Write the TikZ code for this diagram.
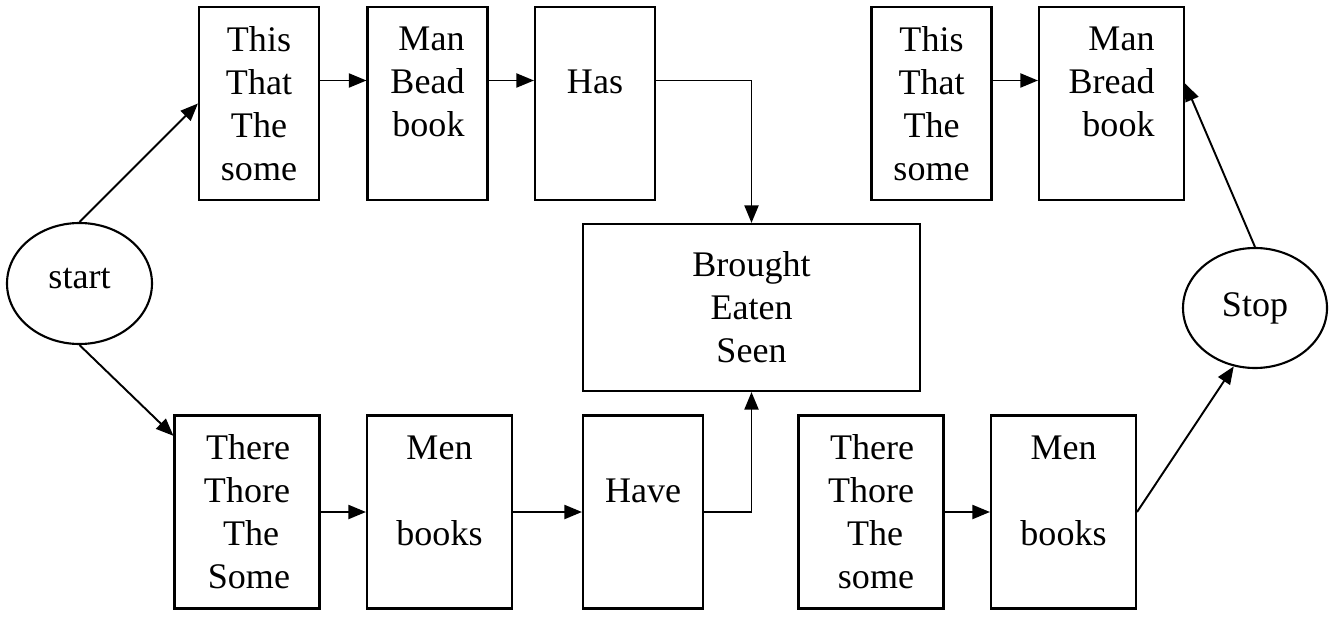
\documentclass[tikz,border=0pt]{standalone}
\usepackage{fontspec}
\setmainfont{Liberation Serif}
\usepackage{xcolor}
\usetikzlibrary{shapes.geometric, arrows.meta}
\tikzstyle{term} = [ellipse, minimum width=2.9cm, minimum height=2.42cm, text centered, draw=black, line width=1.2pt]
\tikzstyle{word} = [rectangle, minimum width=2.4cm, minimum height=3.86cm, align=center, draw=black, line width=1.2pt]
\tikzstyle{wide} = [minimum width=2.9cm]
\tikzstyle{arrow} = [line width=1.1pt,->,>={Triangle[length=10pt,width=8pt]}]

\begin{document}
\begin{tikzpicture}[font=\fontsize{20.5}{24.5}\selectfont]
    \useasboundingbox (0,0) rectangle (26.68,-12.36);
    \node (start) [term] at (1.59,-5.67) {\raisebox{0.2cm}{start}};
    \node (this1) [word] at (5.18,-2.07) {This\\That\\The\\some};
    \node (bead) [word, align=right] at (8.55,-2.07) {Man\\Bead\\book\\~};
    \node (has) [word] at (11.9,-2.07) {\vphantom{H}\\Has\\~\\~};
    \node (this2) [word] at (18.63,-2.07) {This\\That\\The\\some};
    \node (bread) [word, wide, align=right] at (22.23,-2.07) {Man\\Bread\\book\\~};
    \node (verbs) [word, minimum width=6.74cm, minimum height=3.34cm] at (15.03,-6.15) {Brought\\Eaten\\Seen};
    \node (stop) [term, minimum width=2.88cm, minimum height=2.4cm] at (25.1,-6.16) {Stop};
    \node (there1) [word, wide, align=right] at (4.94,-10.24) {There\\Thore\\The\kern0.3em\\Some};
    \node (men1) [word, wide] at (8.79,-10.24) {Men\\~\\books\\~};
    \node (have) [word] at (12.86,-10.24) {\vphantom{H}\\Have\\~\\~};
    \node (there2) [word, wide, align=right] at (17.42,-10.24) {There\\Thore\\The\kern0.3em\\some};
    \node (men2) [word, wide] at (21.27,-10.24) {Men\\~\\books\\~};

    \draw [arrow] (start.north) -- (this1.west);
    \draw [arrow] (start.south) -- (there1.134);
    \draw [arrow] ([yshift=0.46cm]this1.east) -- ([yshift=0.46cm]bead.west);
    \draw [arrow] ([yshift=0.46cm]bead.east) -- ([yshift=0.46cm]has.west);
    \draw [arrow] ([yshift=0.46cm]has.east) -| (verbs.north);
    \draw [arrow] (there1) -- (men1);
    \draw [arrow] (men1) -- (have);
    \draw [arrow] (have.east) -| (verbs.south);
    \draw [arrow] (there2) -- (men2);
    \draw [arrow] (men2.east) -- (stop.250);
    \draw [arrow] (stop.north) -- ([yshift=0.4cm]bread.east);
    \draw [arrow] ([yshift=0.46cm]this2.east) -- ([yshift=0.46cm]bread.west);
\end{tikzpicture}
\end{document}
